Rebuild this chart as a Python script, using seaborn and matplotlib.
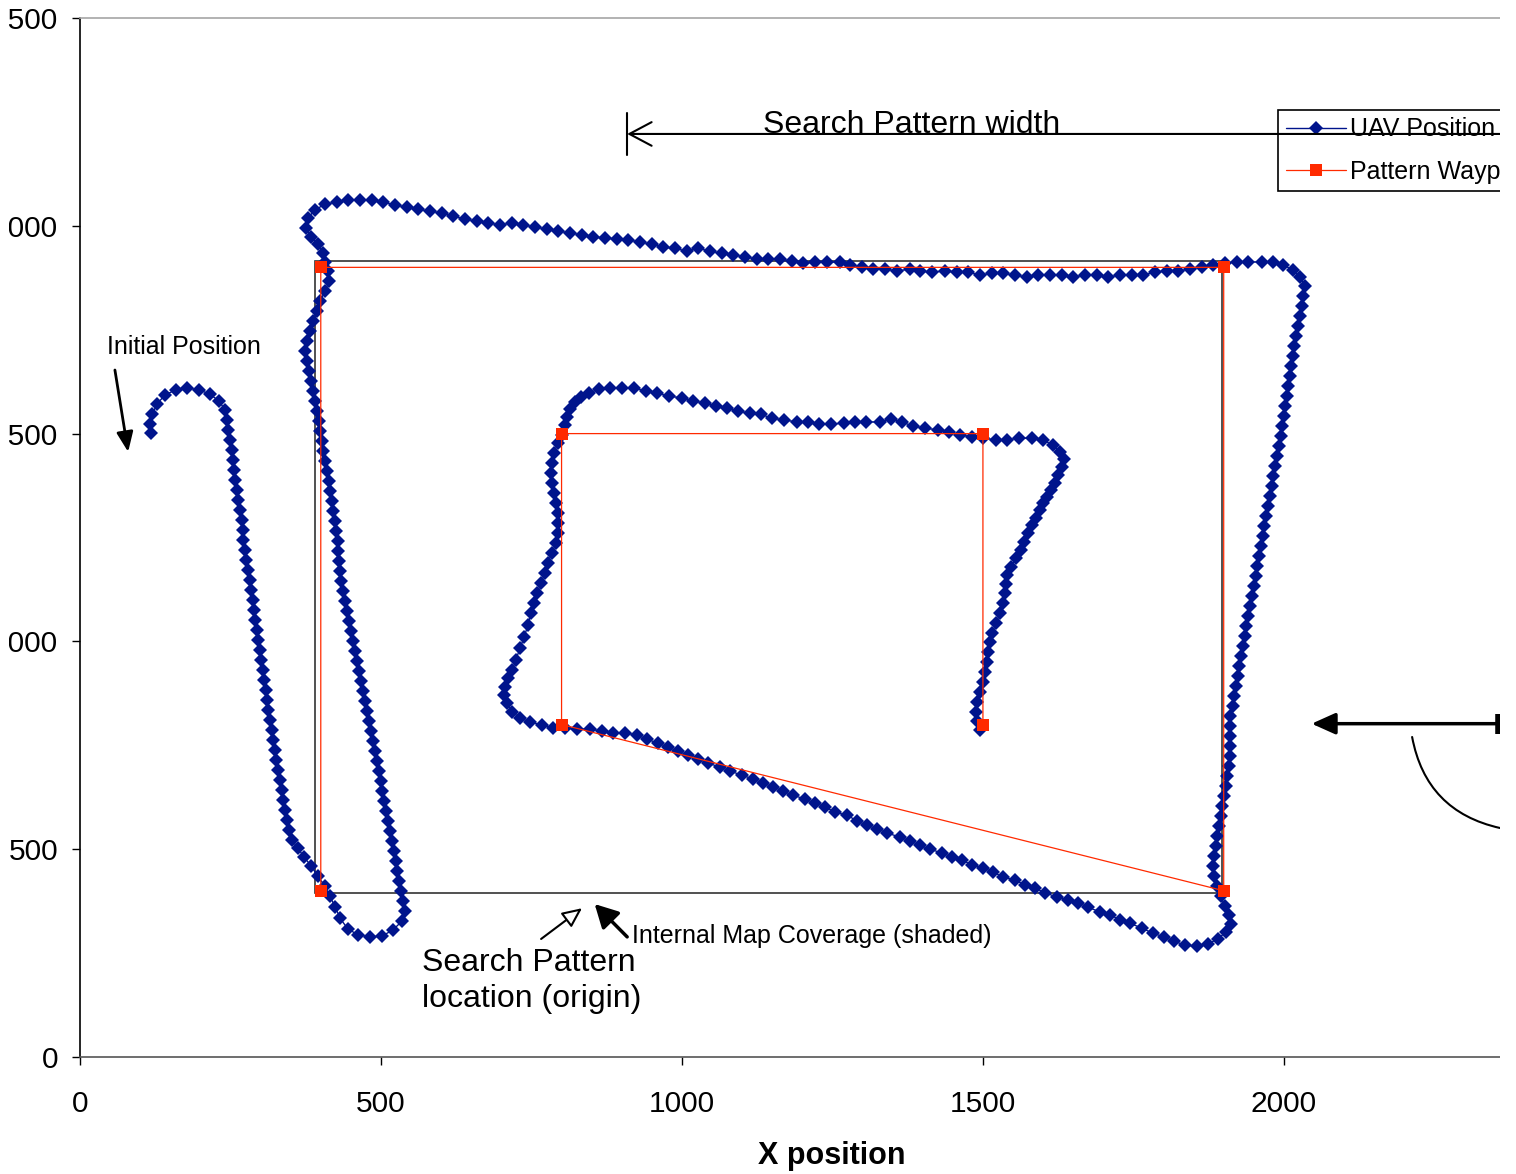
import matplotlib
matplotlib.use("Agg")
import matplotlib.pyplot as plt
from matplotlib.patches import Rectangle
import seaborn as sns

# UAV track, in flight order (x, y)
# hook at the start, first leg down and back up the left side
seg_left = [
    (118, 1501), (116, 1523), (120, 1547), (128, 1571), (141, 1593), (159, 1605),
    (178, 1610), (198, 1605), (216, 1595), (231, 1578), (241, 1557), (244, 1533),
    (246, 1509), (249, 1485), (252, 1460), (254, 1436), (256, 1412), (257, 1388),
    (261, 1364), (262, 1340), (266, 1316), (269, 1292), (271, 1268), (271, 1244),
    (274, 1220), (276, 1196), (279, 1172), (282, 1148), (284, 1124), (287, 1100),
    (289, 1075), (291, 1051), (294, 1027), (296, 1003), (299, 979), (301, 955),
    (304, 931), (306, 907), (309, 883), (311, 859), (312, 835), (316, 811),
    (319, 787), (321, 763), (324, 739), (326, 715), (329, 691), (332, 666),
    (336, 642), (337, 618), (341, 594), (344, 570), (347, 546), (352, 522),
    (362, 503), (372, 481), (384, 460), (395, 435), (407, 411), (415, 387),
    (424, 361), (432, 334), (445, 308), (462, 294), (482, 289), (502, 291),
    (520, 306), (535, 327), (540, 351), (537, 375), (533, 399), (530, 423),
    (527, 448), (525, 472), (522, 496), (518, 520), (515, 544), (512, 568),
    (508, 592), (505, 616), (502, 640), (500, 664), (497, 688), (493, 712),
    (490, 736), (487, 760), (483, 784), (480, 808), (477, 832), (473, 857),
    (470, 881), (467, 905), (463, 929), (460, 953), (457, 977), (453, 1001),
    (450, 1025), (447, 1049), (444, 1073), (440, 1097), (437, 1121), (434, 1145),
    (432, 1169), (430, 1193), (429, 1217), (429, 1241), (425, 1266), (424, 1290),
    (420, 1314), (419, 1338), (415, 1362), (414, 1386), (410, 1410), (407, 1434),
    (404, 1458), (402, 1482), (399, 1506), (397, 1530), (394, 1554), (390, 1578),
    (387, 1602), (384, 1626), (380, 1651), (377, 1675), (374, 1699), (377, 1723),
    (382, 1747), (387, 1771), (394, 1795), (399, 1819), (407, 1843), (414, 1867),
    (412, 1891), (407, 1913), (404, 1934), (395, 1956), (384, 1973), (375, 1995),
    (379, 2019), (390, 2038), (407, 2052),
]

# across the top
seg_top = [
    (427, 2057), (445, 2062), (465, 2062), (485, 2062), (503, 2057), (523, 2050),
    (543, 2045), (561, 2040), (581, 2035), (601, 2031), (620, 2023), (640, 2016),
    (659, 2011), (678, 2007), (698, 2002), (718, 2007), (736, 2002), (756, 1997),
    (776, 1992), (794, 1987), (814, 1983), (834, 1978), (852, 1973), (872, 1971),
    (892, 1968), (910, 1966), (930, 1961), (950, 1956), (968, 1949), (988, 1946),
    (1008, 1939), (1027, 1946), (1046, 1939), (1066, 1934), (1085, 1930), (1105, 1925),
    (1125, 1920), (1143, 1920), (1163, 1920), (1183, 1915), (1201, 1910), (1221, 1913),
    (1241, 1913), (1262, 1913), (1279, 1906), (1299, 1901), (1317, 1896), (1337, 1896),
    (1357, 1891), (1379, 1896), (1395, 1891), (1415, 1889), (1437, 1891), (1457, 1889),
    (1475, 1889), (1495, 1881), (1515, 1886), (1533, 1886), (1553, 1881), (1573, 1877),
    (1591, 1881), (1611, 1881), (1631, 1881), (1649, 1877), (1669, 1881), (1689, 1881),
    (1708, 1877), (1728, 1881), (1747, 1881), (1766, 1881), (1786, 1889), (1806, 1891),
    (1824, 1891), (1844, 1896), (1864, 1901), (1882, 1906), (1902, 1910), (1922, 1913),
    (1940, 1913), (1963, 1913), (1982, 1913), (1998, 1906), (2015, 1894), (2027, 1877),
]

# down the right side
seg_right = [
    (2035, 1855), (2032, 1831), (2030, 1807), (2027, 1783), (2023, 1759), (2020, 1735),
    (2017, 1711), (2015, 1687), (2012, 1663), (2010, 1638), (2007, 1614), (2005, 1590),
    (2002, 1566), (2000, 1542), (1997, 1518), (1995, 1494), (1992, 1470), (1988, 1446),
    (1985, 1422), (1982, 1398), (1980, 1374), (1977, 1350), (1973, 1326), (1970, 1302),
    (1967, 1278), (1965, 1254), (1962, 1229), (1958, 1205), (1955, 1181), (1953, 1157),
    (1950, 1133), (1947, 1109), (1943, 1085), (1940, 1061), (1937, 1037), (1935, 1013),
    (1932, 989), (1929, 965), (1925, 941), (1924, 917), (1920, 893), (1917, 869),
    (1915, 845), (1910, 820), (1910, 796), (1910, 772), (1910, 748), (1910, 724),
    (1909, 700), (1905, 676), (1904, 652), (1900, 628), (1897, 604), (1895, 580),
    (1892, 556), (1889, 532), (1887, 508), (1884, 484), (1882, 460), (1884, 435),
    (1889, 411), (1895, 387), (1902, 363), (1909, 342), (1912, 320), (1904, 301),
    (1890, 284), (1874, 272), (1855, 267),
]

# long diagonal back to the inner box
seg_bottom = [
    (1836, 269), (1817, 279), (1801, 289), (1782, 298), (1764, 310), (1744, 322),
    (1728, 330), (1711, 342), (1694, 349), (1674, 361), (1658, 371), (1641, 378),
    (1623, 385), (1603, 395), (1586, 407), (1570, 414), (1553, 426), (1533, 433),
    (1517, 445), (1500, 455), (1482, 462), (1465, 474), (1449, 481), (1432, 491),
    (1412, 500), (1395, 510), (1379, 520), (1362, 529), (1341, 539), (1324, 549),
    (1307, 558), (1291, 568), (1274, 582), (1254, 589), (1238, 602), (1221, 611),
    (1204, 621), (1184, 630), (1168, 640), (1151, 650), (1135, 659), (1118, 669),
    (1100, 678), (1080, 688), (1063, 698), (1043, 707), (1027, 717), (1010, 727),
    (993, 736), (977, 746), (960, 755), (942, 765), (925, 775), (905, 780),
    (885, 780), (867, 784), (847, 789), (826, 789), (806, 792), (786, 792),
    (767, 799), (747, 806), (731, 816), (718, 830), (709, 852), (704, 871),
    (706, 890), (711, 912),
]

# inner loop
seg_inner = [
    (718, 931), (724, 955), (731, 984), (738, 1011), (744, 1039), (749, 1068),
    (754, 1092), (759, 1116), (766, 1140), (772, 1164), (777, 1189), (784, 1213),
    (791, 1237), (794, 1261), (794, 1285), (794, 1309), (791, 1333), (787, 1357),
    (784, 1381), (782, 1405), (784, 1429), (787, 1453), (794, 1477), (801, 1497),
    (806, 1521), (809, 1540), (814, 1559), (822, 1576), (832, 1588), (846, 1598),
    (862, 1607), (880, 1610), (900, 1610), (920, 1610), (940, 1602), (958, 1598),
    (978, 1590), (1000, 1586), (1018, 1578), (1038, 1574), (1056, 1566), (1075, 1561),
    (1093, 1554), (1113, 1549), (1131, 1547), (1149, 1537), (1169, 1533), (1191, 1528),
    (1209, 1528), (1228, 1523), (1247, 1523), (1269, 1525), (1287, 1528), (1306, 1528),
    (1329, 1528), (1347, 1535), (1365, 1528), (1384, 1518), (1404, 1513), (1425, 1509),
    (1443, 1504), (1462, 1497), (1482, 1492), (1500, 1489), (1522, 1485), (1540, 1485),
    (1560, 1489), (1581, 1489), (1600, 1485), (1616, 1472), (1628, 1456), (1635, 1439),
    (1631, 1420), (1625, 1400), (1620, 1381), (1613, 1364), (1606, 1347), (1600, 1333),
    (1595, 1316), (1588, 1297), (1581, 1280), (1575, 1261), (1568, 1239), (1563, 1220),
    (1555, 1201), (1546, 1179), (1540, 1160), (1538, 1138), (1537, 1116), (1533, 1092),
    (1528, 1068), (1522, 1044), (1515, 1020), (1512, 998), (1508, 974), (1507, 950),
    (1503, 926), (1500, 902), (1495, 878), (1490, 854), (1488, 830), (1490, 808),
    (1495, 787),
]

# search pattern waypoints
wp_x = [400, 400, 1900, 1900, 800, 800, 1500, 1500]
wp_y = [400, 1900, 1900, 400, 800, 1500, 1500, 800]

# internal map coverage box corners
cov_x = [390, 1897]
cov_y = [395, 1915]

x_ticks = [0, 500, 1000, 1500, 2000]
y_ticks = [0, 500, 1000, 1500, 2000, 2500]

BLUE = "#00148C"
RED = "#FF2A00"

sns.set_style("white")
plt.rcParams["font.family"] = ["Liberation Sans", "DejaVu Sans"]
plt.rcParams["text.color"] = "black"
plt.rcParams["axes.labelcolor"] = "black"
plt.rcParams["xtick.color"] = "black"
plt.rcParams["ytick.color"] = "black"

uav = seg_left + seg_top + seg_right + seg_bottom + seg_inner
uav_x = [p[0] for p in uav]
uav_y = [p[1] for p in uav]

fig = plt.figure(figsize=(15.16, 11.74), dpi=100)
ax = fig.add_axes([80 / 1516, 117 / 1174, 1420 / 1516, 1039 / 1174])

ax.add_patch(Rectangle((cov_x[0], cov_y[0]), cov_x[1] - cov_x[0], cov_y[1] - cov_y[0],
                       fill=False, ec="#333333", lw=1.2, zorder=1))

sns.lineplot(x=uav_x, y=uav_y, sort=False, estimator=None, color=BLUE, lw=1,
             marker="D", markersize=7.4, markeredgewidth=0, label="UAV Position",
             ax=ax, zorder=2)
sns.lineplot(x=wp_x, y=wp_y, sort=False, estimator=None, color=RED, lw=0.9,
             marker="s", markersize=9, markeredgewidth=0, label="Pattern Waypoints",
             ax=ax, zorder=3)

ax.set_xlim(0, 2359)
ax.set_ylim(0, 2500)
ax.set_xticks(x_ticks)
ax.set_yticks(y_ticks)
ax.tick_params(axis="both", direction="out", length=5.8, width=1, labelsize=21.5,
               color="black", labelcolor="black", bottom=True, left=True)
ax.tick_params(axis="x", pad=18)
ax.tick_params(axis="y", pad=10)

ax.spines["right"].set_visible(False)
ax.spines["top"].set_color("#a6a6a6")
ax.spines["left"].set_color("black")
ax.spines["bottom"].set_color("#555555")
for s in ["left", "bottom", "top"]:
    ax.spines[s].set_linewidth(1.2)

ax.set_xlabel("X position", fontsize=22, fontweight="bold", color="black")
ax.xaxis.set_label_coords((832 - 80) / 1420, -(1156 - 1057) / 1039)
ax.xaxis.label.set_va("center")
ax.set_ylabel("")

leg = ax.legend(loc="upper left", bbox_to_anchor=((1278 - 80) / 1420, (1057 - 110) / 1039),
                borderaxespad=0, frameon=True, fancybox=False, shadow=False, fontsize=18,
                handlelength=2.4, handletextpad=0.2, labelspacing=0.72, borderpad=0.3,
                edgecolor="black", framealpha=1)
leg.get_frame().set_linewidth(1.2)
for t in leg.get_texts():
    t.set_color("black")

# search pattern width arrow
ax.annotate("", xy=(909, 2221), xytext=(2500, 2221),
            arrowprops=dict(arrowstyle="->,head_length=1.6,head_width=0.85", lw=1.5,
                            color="black", mutation_scale=10, shrinkA=0, shrinkB=0),
            annotation_clip=False, zorder=6)
ax.plot([909, 909], [2170, 2271], color="black", lw=1.5, zorder=6)
ax.text(1135, 2243, "Search Pattern width", fontsize=23, va="center", ha="left", zorder=6)

# initial position
ax.text(45, 1708, "Initial Position", fontsize=18, va="center")
ax.annotate("", xy=(80, 1456), xytext=(58, 1653),
            arrowprops=dict(arrowstyle="-|>,head_length=1.2,head_width=0.5", lw=2,
                            color="black", mutation_scale=10, shrinkA=0, shrinkB=0))

# right side width arrow and curve
ax.annotate("", xy=(2046, 802), xytext=(2359, 802),
            arrowprops=dict(arrowstyle="-|>,head_length=1.45,head_width=0.65", lw=2.5,
                            color="black", mutation_scale=10, shrinkA=0, shrinkB=0),
            annotation_clip=False)
ax.plot([2355, 2355], [778, 826], color="black", lw=4, solid_capstyle="butt", clip_on=False)
ax.annotate("", xy=(2359, 551), xytext=(2213, 770),
            arrowprops=dict(arrowstyle="-", lw=1.5, color="black",
                            connectionstyle="arc3,rad=0.33", shrinkA=0, shrinkB=0),
            annotation_clip=False)

# internal map coverage / origin labels
ax.annotate("", xy=(855, 368), xytext=(909, 289),
            arrowprops=dict(arrowstyle="-|>,head_length=1.4,head_width=0.75", lw=2.5,
                            color="black", mutation_scale=10, shrinkA=0, shrinkB=0))
ax.text(917, 290, "Internal Map Coverage (shaded)", fontsize=18, va="center")
ax.annotate("", xy=(834, 358), xytext=(766, 284),
            arrowprops=dict(arrowstyle="-|>,head_length=1.2,head_width=0.55", lw=1.5,
                            ec="black", fc="white", mutation_scale=10, shrinkA=0, shrinkB=0))
ax.text(568, 262, "Search Pattern\nlocation (origin)", fontsize=23, va="top", linespacing=1.25)

# chart is cut off on the left and right
fig.add_artist(Rectangle((1500 / 1516, 0), 16 / 1516, 1, transform=fig.transFigure,
                         facecolor="white", edgecolor="none", zorder=10))
fig.add_artist(Rectangle((0, 0), 9 / 1516, 1, transform=fig.transFigure,
                         facecolor="white", edgecolor="none", zorder=10))

fig.savefig("out.png", dpi=100)
